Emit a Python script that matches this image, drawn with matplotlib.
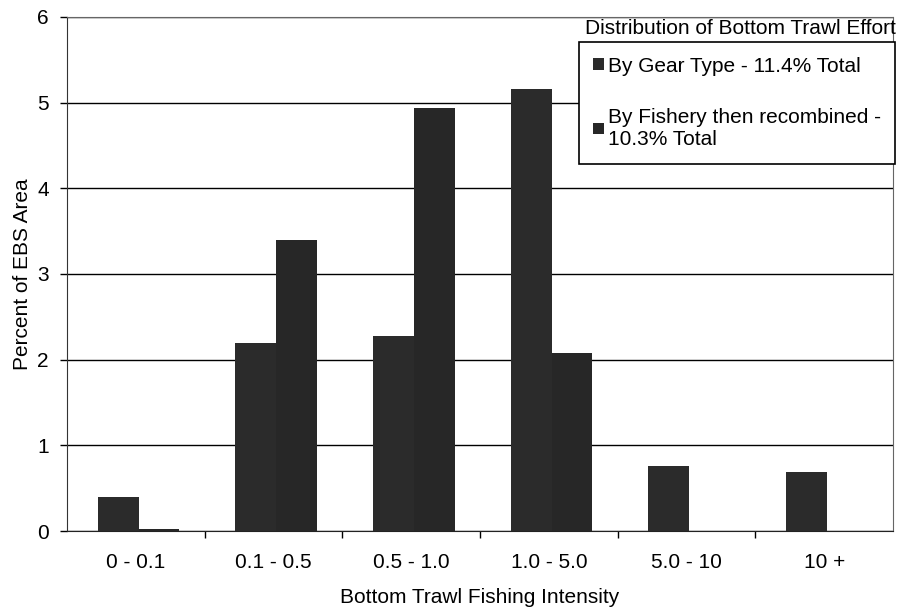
import numpy as np
import matplotlib.pyplot as plt

plt.rcParams['font.family'] = ['Liberation Sans', 'DejaVu Sans']

# percent of EBS area in each fishing intensity class
categories = ['0 - 0.1', '0.1 - 0.5', '0.5 - 1.0', '1.0 - 5.0', '5.0 - 10', '10 +']
by_gear_type = [0.40, 2.19, 2.28, 5.16, 0.76, 0.69]
by_fishery = [0.02, 3.40, 4.94, 2.08, 0.0, 0.0]
labels = ['By Gear Type - 11.4% Total',
          'By Fishery then recombined -\n10.3% Total']

fig = plt.figure(figsize=(8.98, 6.07), dpi=100)
ax = fig.add_axes([0.0746, 0.1252, 0.9198, 0.847])

x = np.arange(len(categories))
w = 0.296
ax.bar(x - w / 2 + 0.02, by_gear_type, w, color='#2b2b2b', label=labels[0], zorder=3)
ax.bar(x + w / 2 + 0.02, by_fishery, w, color='#272727', label=labels[1], zorder=3)

ax.set_xlim(-0.5, len(categories) - 0.5)
ax.set_ylim(0, 6)
ax.set_yticks(range(7))
ax.yaxis.grid(True, color='black', linewidth=1.0, zorder=0)
ax.tick_params(axis='y', labelsize=15, length=5, width=1, pad=8)

# labels centred under the groups, tick marks between them
ax.set_xticks(x)
ax.set_xticklabels(categories, fontsize=15)
ax.tick_params(axis='x', which='major', length=0, pad=16)
ax.set_xticks(x[:-1] + 0.5, minor=True)
ax.tick_params(axis='x', which='minor', length=5, width=1)

ax.set_xlabel('Bottom Trawl Fishing Intensity', fontsize=15, labelpad=11)
ax.set_ylabel('Percent of EBS Area', fontsize=15, labelpad=4)

ax.spines['left'].set_color('#333333')
ax.spines['bottom'].set_color('#222222')
for side in ('top', 'right'):
    ax.spines[side].set_linestyle((0, (2, 1)))
    ax.spines[side].set_color('#666666')

ax.text(1.003, 0.978, 'Distribution of Bottom Trawl Effort', transform=ax.transAxes,
        ha='right', va='center', fontsize=15)
leg = ax.legend(loc='upper right', bbox_to_anchor=(1.003, 0.951), fontsize=15,
                frameon=True, fancybox=False, edgecolor='black', framealpha=1,
                handlelength=0.5, handleheight=0.5, handletextpad=0.2,
                labelspacing=1.55, borderpad=0.7, borderaxespad=0)
leg.get_frame().set_linewidth(1.2)

fig.savefig('out.png', dpi=100, facecolor='white')
